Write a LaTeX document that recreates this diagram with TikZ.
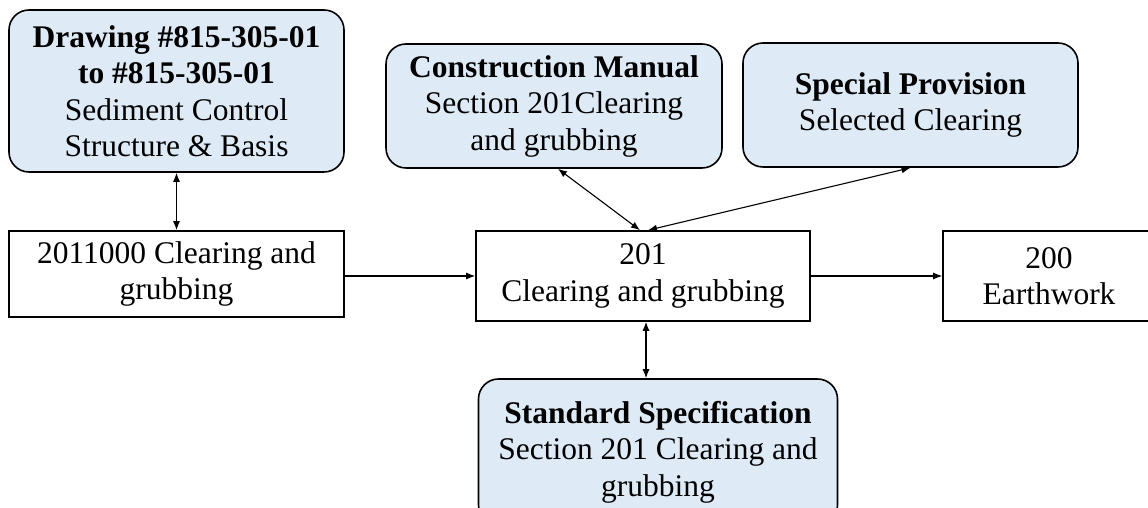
\documentclass[tikz,border=0pt]{standalone}
\usepackage{fontspec}
\setmainfont{Liberation Serif}
\usetikzlibrary{arrows.meta,calc}
\definecolor{refblue}{RGB}{222,235,247}
\begin{document}
\begin{tikzpicture}[x=1pt,y=1pt,
  every node/.style={inner sep=0pt,align=center,font=\fontsize{31.5}{36.5}\selectfont},
  plainbox/.style={draw=black,line width=1.6pt,fill=white},
  refbox/.style={draw=black,line width=1.6pt,fill=refblue,rounded corners=20pt},
  link/.style={line width=1.1pt,-{Latex[length=9pt,width=7pt]}},
  duallink/.style={line width=1.1pt,{Latex[length=9pt,width=7pt]}-{Latex[length=9pt,width=7pt]}}]
\useasboundingbox (0,0) rectangle (1148,508);

% reference documents
\node[refbox,minimum width=335pt,minimum height=162pt] (drw) at (176.5,417)
  {\textbf{Drawing \#815-305-01}\\\textbf{to \#815-305-01}\\Sediment Control\\Structure \& Basis};
\node[refbox,minimum width=336pt,minimum height=124pt] (cm) at (554,402)
  {\textbf{Construction Manual}\\Section 201Clearing\\and grubbing};
\node[refbox,minimum width=335pt,minimum height=124pt] (sp) at (910.5,403)
  {\textbf{Special Provision}\\Selected Clearing};
\node[refbox,minimum width=359pt,minimum height=146pt] (ss) at (658,56)
  {\textbf{Standard Specification}\\Section 201 Clearing and\\grubbing};

% pay items
\node[plainbox,minimum width=335pt,minimum height=86pt] (item) at (176.5,234)
  {2011000 Clearing and\\grubbing};
\node[plainbox,minimum width=334pt,minimum height=90pt] (sec) at (643,232)
  {201\\Clearing and grubbing};
\node[plainbox,minimum width=212pt,minimum height=90pt] (ew) at (1049,232)
  {200\\Earthwork};

% connectors
\draw[duallink] (drw.south) -- (item.north);
\draw[link] (sec.west -| item.east) -- (sec.west);
\draw[link] (sec.east) -- (ew.west);
\coordinate (secb) at ($(sec.south)+(3,0)$);
\draw[duallink] (secb) -- (secb |- ss.north);
\draw[duallink] ($(cm.south)+(4,0)$) -- ($(sec.north)+(-3,0)$);
\draw[duallink] (sp.south) -- ($(sec.north)+(5,0)$);
\end{tikzpicture}
\end{document}
